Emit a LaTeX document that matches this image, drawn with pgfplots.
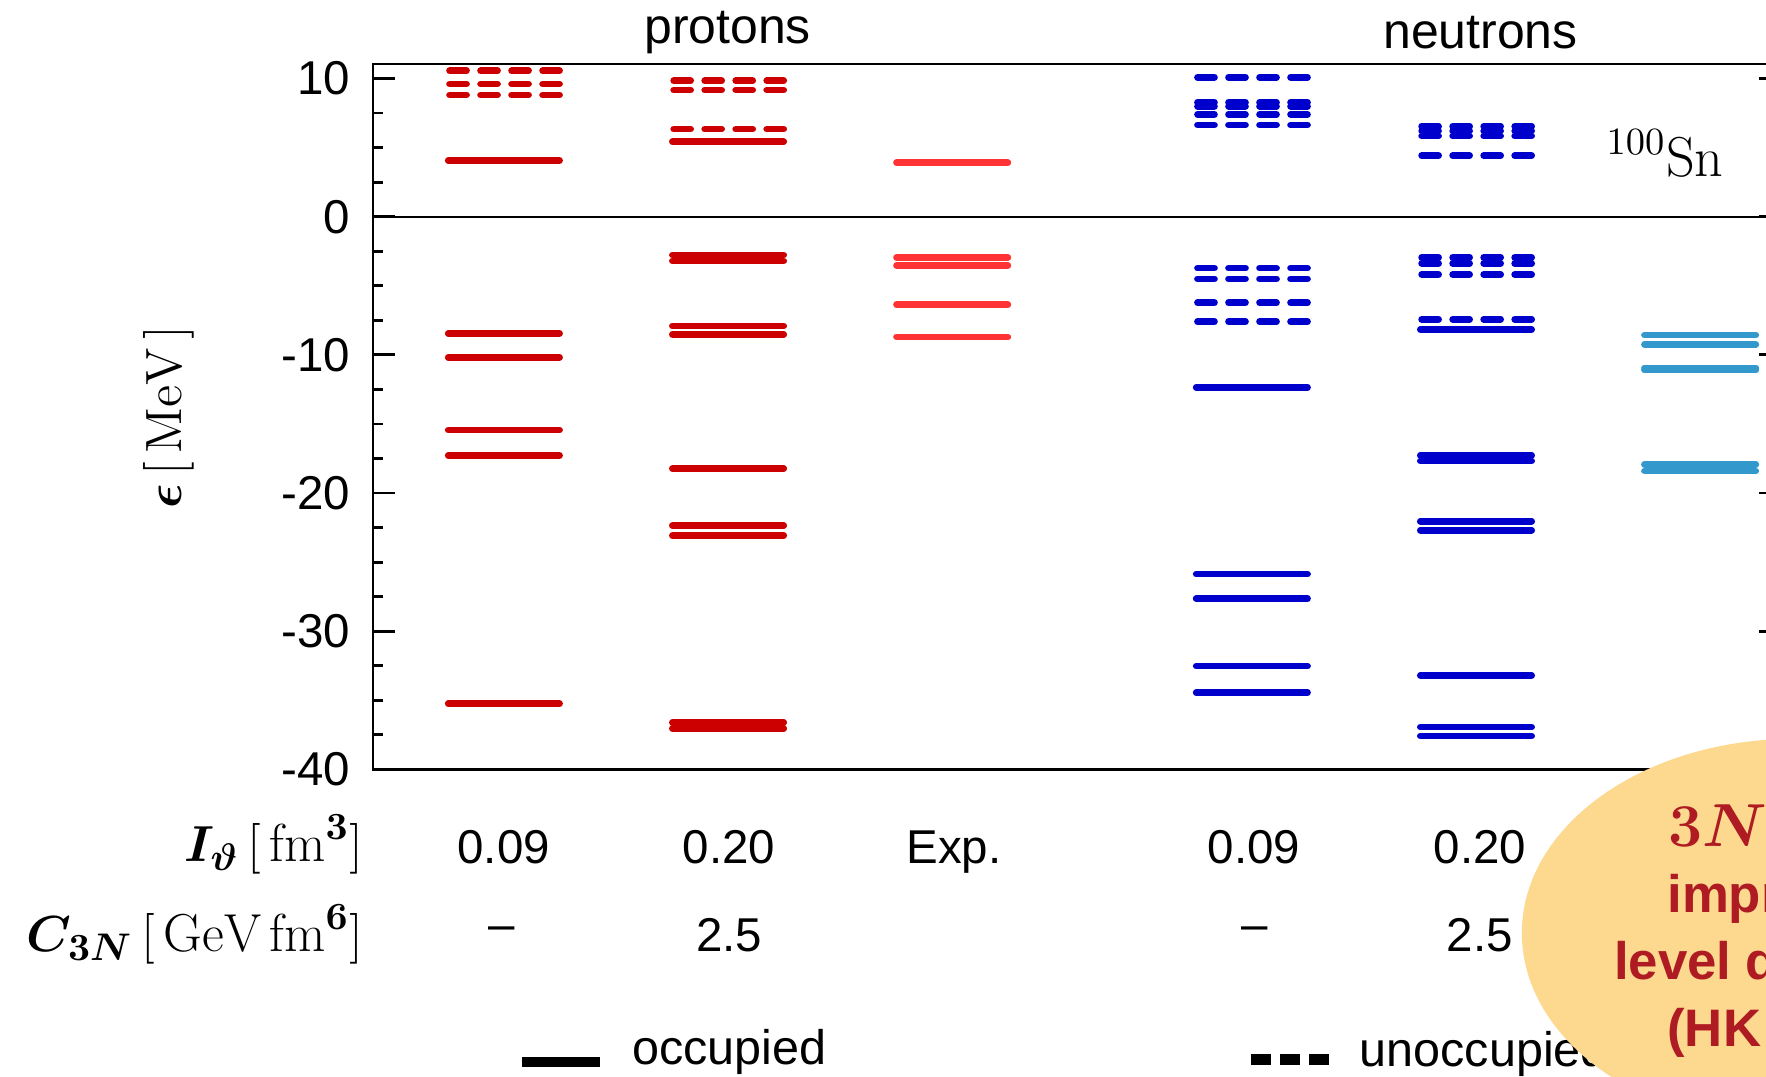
\documentclass[border=0pt]{standalone}
\usepackage{pgfplots}
\pgfplotsset{compat=1.18}
\usepackage{fontspec}
\usepackage{bm}
\newfontfamily\arial{Liberation Sans}
\definecolor{pred}{HTML}{CC0000}
\definecolor{pexp}{HTML}{FF3333}
\definecolor{nblue}{HTML}{0000CC}
\definecolor{lblue}{HTML}{3399CC}
\definecolor{blob}{RGB}{253,216,143}
\definecolor{blobtext}{RGB}{174,27,35}
\pgfplotsset{
  occ/.style={only marks, mark=-, mark size=0.5565cm,
    mark options={#1, line width=1.9pt, line cap=round, solid}},
  unocc/.style={only marks, mark=-, mark size=0.5565cm,
    mark options={#1, line width=1.9pt, line cap=round, dash pattern=on 0.17cm off 0.14cm}},
}
\begin{document}
\begin{tikzpicture}[x=0.01cm,y=-0.01cm]
\useasboundingbox (0,0) rectangle (1766,1077);
\clip (0,0) rectangle (1766,1077);
\begin{axis}[
  at={(3.728cm,-0.64cm)}, anchor=north west,
  scale only axis, width=14.072cm, height=7.05cm,
  xmin=0.416, xmax=6.698, ymin=-40, ymax=11.05,
  xtick=\empty,
  ytick={-40,-30,-20,-10,0,10},
  yticklabels={-40,-30,-20,-10,0,10},
  minor y tick num=3,
  major tick length=0.22cm, minor tick length=0.1cm,
  axis line style={line width=0.8pt},
  tick style={black, line width=0.8pt},
  yticklabel style={font=\fontsize{13.5}{16}\selectfont\arial, inner sep=0pt, xshift=-0.22cm},
]
\addplot[black, line width=0.45pt, forget plot] coordinates {(0.416,0) (6.698,0)};
% protons, I=0.09
\addplot[occ=pred] table[row sep=\\] {x y\\ 1 4.07\\ 1 -8.45\\ 1 -10.17\\ 1 -15.44\\ 1 -17.28\\ 1 -35.25\\};
\addplot[unocc=pred] table[row sep=\\] {x y\\ 1 10.56\\ 1 9.61\\ 1 8.81\\};
% protons, I=0.20
\addplot[occ=pred] table[row sep=\\] {x y\\ 2 5.42\\ 2 -2.78\\ 2 -3.20\\ 2 -7.91\\ 2 -8.52\\ 2 -18.23\\ 2 -22.36\\ 2 -23.08\\ 2 -36.59\\ 2 -37.03\\};
\addplot[unocc=pred] table[row sep=\\] {x y\\ 2 9.84\\ 2 9.17\\ 2 6.34\\};
% protons, experiment
\addplot[occ=pexp] table[row sep=\\] {x y\\ 3 3.91\\ 3 -2.95\\ 3 -3.53\\ 3 -6.37\\ 3 -8.70\\};
% neutrons, I=0.09
\addplot[occ=nblue] table[row sep=\\] {x y\\ 4.337 -12.34\\ 4.337 -25.86\\ 4.337 -27.64\\ 4.337 -32.52\\ 4.337 -34.45\\};
\addplot[unocc=nblue] table[row sep=\\] {x y\\ 4.337 10.09\\ 4.337 8.28\\ 4.337 8.00\\ 4.337 7.41\\ 4.337 6.64\\ 4.337 -3.72\\ 4.337 -4.50\\ 4.337 -6.23\\ 4.337 -7.60\\};
% neutrons, I=0.20
\addplot[occ=nblue] table[row sep=\\] {x y\\ 5.337 -8.16\\ 5.337 -17.26\\ 5.337 -17.67\\ 5.337 -22.04\\ 5.337 -22.69\\ 5.337 -33.19\\ 5.337 -36.94\\ 5.337 -37.59\\};
\addplot[unocc=nblue] table[row sep=\\] {x y\\ 5.337 6.55\\ 5.337 6.20\\ 5.337 5.85\\ 5.337 4.42\\ 5.337 -2.95\\ 5.337 -3.38\\ 5.337 -4.18\\ 5.337 -7.42\\};
% neutrons, experiment
\addplot[occ=lblue] table[row sep=\\] {x y\\ 6.337 -8.57\\ 6.337 -9.24\\ 6.337 -10.94\\ 6.337 -11.10\\ 6.337 -17.91\\ 6.337 -18.40\\};
\end{axis}
% headings
\node[anchor=base, inner sep=0, font=\fontsize{14.2}{17}\selectfont\arial] at (727.6,43.3) {protons};
\node[anchor=base, inner sep=0, font=\fontsize{14.2}{17}\selectfont\arial] at (1480.5,48.3) {neutrons};
\node[anchor=base west, inner sep=0, font=\fontsize{16}{19}\selectfont] at (1606,176.7) {$^{100}$Sn};
% y label
\node[rotate=90, inner sep=0, font=\fontsize{14.5}{17}\selectfont] at (169,417) {$\bm{\epsilon}\,[\,\mathrm{MeV}\,]$};
% parameter rows
\node[anchor=base east, inner sep=0, font=\fontsize{15.2}{18}\selectfont] at (364,861.7) {$\bm{I_\vartheta}\,[\,\mathrm{fm}^{\bm{3}}]$};
\node[anchor=base east, inner sep=0, font=\fontsize{15.2}{18}\selectfont] at (364,951.7) {$\bm{C_{3N}}\,[\,\mathrm{GeV}\,\mathrm{fm}^{\bm{6}}]$};
\begin{scope}[every node/.style={anchor=base, inner sep=0, font=\fontsize{13.5}{16}\selectfont\arial}]
\node at (503.7,864) {0.09};
\node at (729,864) {0.20};
\node at (954,864) {Exp.};
\node at (1253.8,864) {0.09};
\node at (1480,864) {0.20};
\node at (502,940.7) {–};
\node at (729,951.7) {2.5};
\node at (1255,940.7) {–};
\node at (1479.8,951.7) {2.5};
\end{scope}
% legend
\draw[line width=0.1cm] (522,1061.7) -- (600,1061.7);
\node[anchor=base west, inner sep=0, font=\fontsize{13.8}{16}\selectfont\arial] at (631.5,1065) {occupied};
\draw[line width=0.11cm, dash pattern=on 0.2cm off 0.09cm] (1251,1060) -- (1329,1060);
\node[anchor=base west, inner sep=0, font=\fontsize{13.8}{16}\selectfont\arial] at (1359,1066.7) {unoccupied};
% callout
\fill[blob] (1794,933) ellipse [x radius=2.72cm, y radius=1.94cm];
\node[anchor=base west, inner sep=0, text=blobtext, font=\fontsize{16.5}{20}\selectfont] at (1668,846.7) {$\bm{3N}$};
\begin{scope}[every node/.style={anchor=base west, inner sep=0, text=blobtext, font=\fontsize{15}{18}\selectfont\arial\bfseries}]
\node at (1666.7,912.7) {impr};
\node at (1613.3,979.3) {level d};
\node at (1666.7,1046.7) {(HK};
\end{scope}
\end{tikzpicture}
\end{document}
